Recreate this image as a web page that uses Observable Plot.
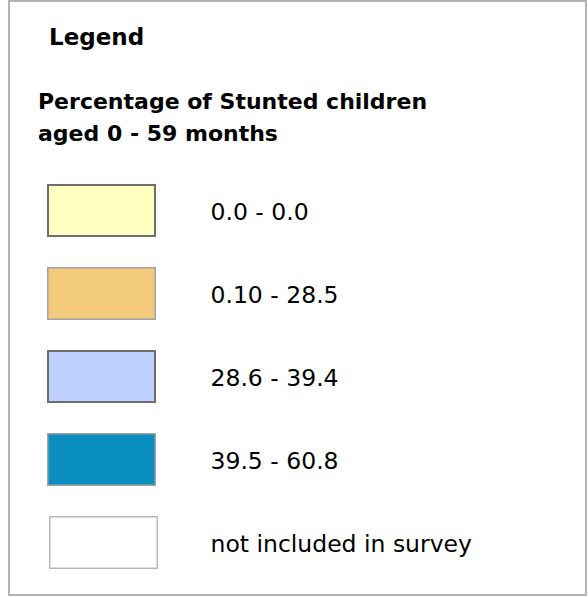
<!DOCTYPE html>
<html>
<head>
<meta charset="utf-8">
<script src="https://cdn.jsdelivr.net/npm/d3@7"></script>
<script src="https://cdn.jsdelivr.net/npm/@observablehq/plot@0.6"></script>
<style>
  html, body { margin: 0; padding: 0; background: #fff; }
  #wrap { position: relative; width: 588px; height: 597px; overflow: hidden; font-family: "DejaVu Sans", Verdana, sans-serif; color: #000; }
  #frame { position: absolute; left: 8px; top: 0; width: 579px; height: 596px; box-sizing: border-box; border: 2px solid #b4b4b4; }
  #heading { position: absolute; left: 49px; top: 25.5px; font-size: 23px; font-weight: bold; line-height: 1; white-space: nowrap; }
  #subtitle { position: absolute; left: 38px; top: 86.4px; font-size: 22px; font-weight: bold; line-height: 32px; white-space: nowrap; }
  #chart { position: absolute; left: 0; top: 0; }
</style>
</head>
<body>
<div id="wrap">
  <div id="frame"></div>
  <div id="heading">Legend</div>
  <div id="subtitle">Percentage of Stunted children<br>aged 0 - 59 months</div>
  <div id="chart"></div>
</div>
<script>
// Legend classes (categories) and their fill colours
const labels = ["0.0 - 0.0", "0.10 - 28.5", "28.6 - 39.4", "39.5 - 60.8", "not included in survey"];
const colors = ["#ffffc0", "#f3c97c", "#bfd1ff", "#0a8fc0", "#ffffff"];

const rows = labels.map((label, i) => ({label, color: colors[i], col: "swatch"}));

const chart = Plot.plot({
  width: 588,
  height: 597,
  marginLeft: 47,
  marginRight: 432,
  marginTop: 181.5,
  marginBottom: 26,
  x: {type: "band", domain: ["swatch"], padding: 0, axis: null},
  y: {type: "band", domain: labels, paddingInner: 0.356, paddingOuter: 0, axis: null},
  color: {type: "identity"},
  style: {fontFamily: "DejaVu Sans, Verdana, sans-serif", background: "transparent", overflow: "visible"},
  marks: [
    Plot.cell(rows.filter((d, i) => i % 2 === 0 && i !== 4), {
      x: "col", y: "label", fill: "color", stroke: "#6e6e6e", strokeWidth: 2, inset: 1
    }),
    Plot.cell(rows.filter((d, i) => i % 2 === 1), {
      x: "col", y: "label", fill: "color", stroke: "#a2a2a2", strokeWidth: 1.5, inset: 0.75
    }),
    Plot.cell(rows.filter((d, i) => i === 4), {
      x: "col", y: "label", fill: "color", stroke: "#b8b8b8", strokeWidth: 1.5, inset: 0.75, dx: 2
    }),
    Plot.text(rows, {
      x: "col", y: "label", text: "label", textAnchor: "start",
      dx: 108.5, dy: 1.2, fontSize: 23.5, fill: "#000"
    })
  ]
});
document.getElementById("chart").appendChild(chart);
</script>
</body>
</html>
